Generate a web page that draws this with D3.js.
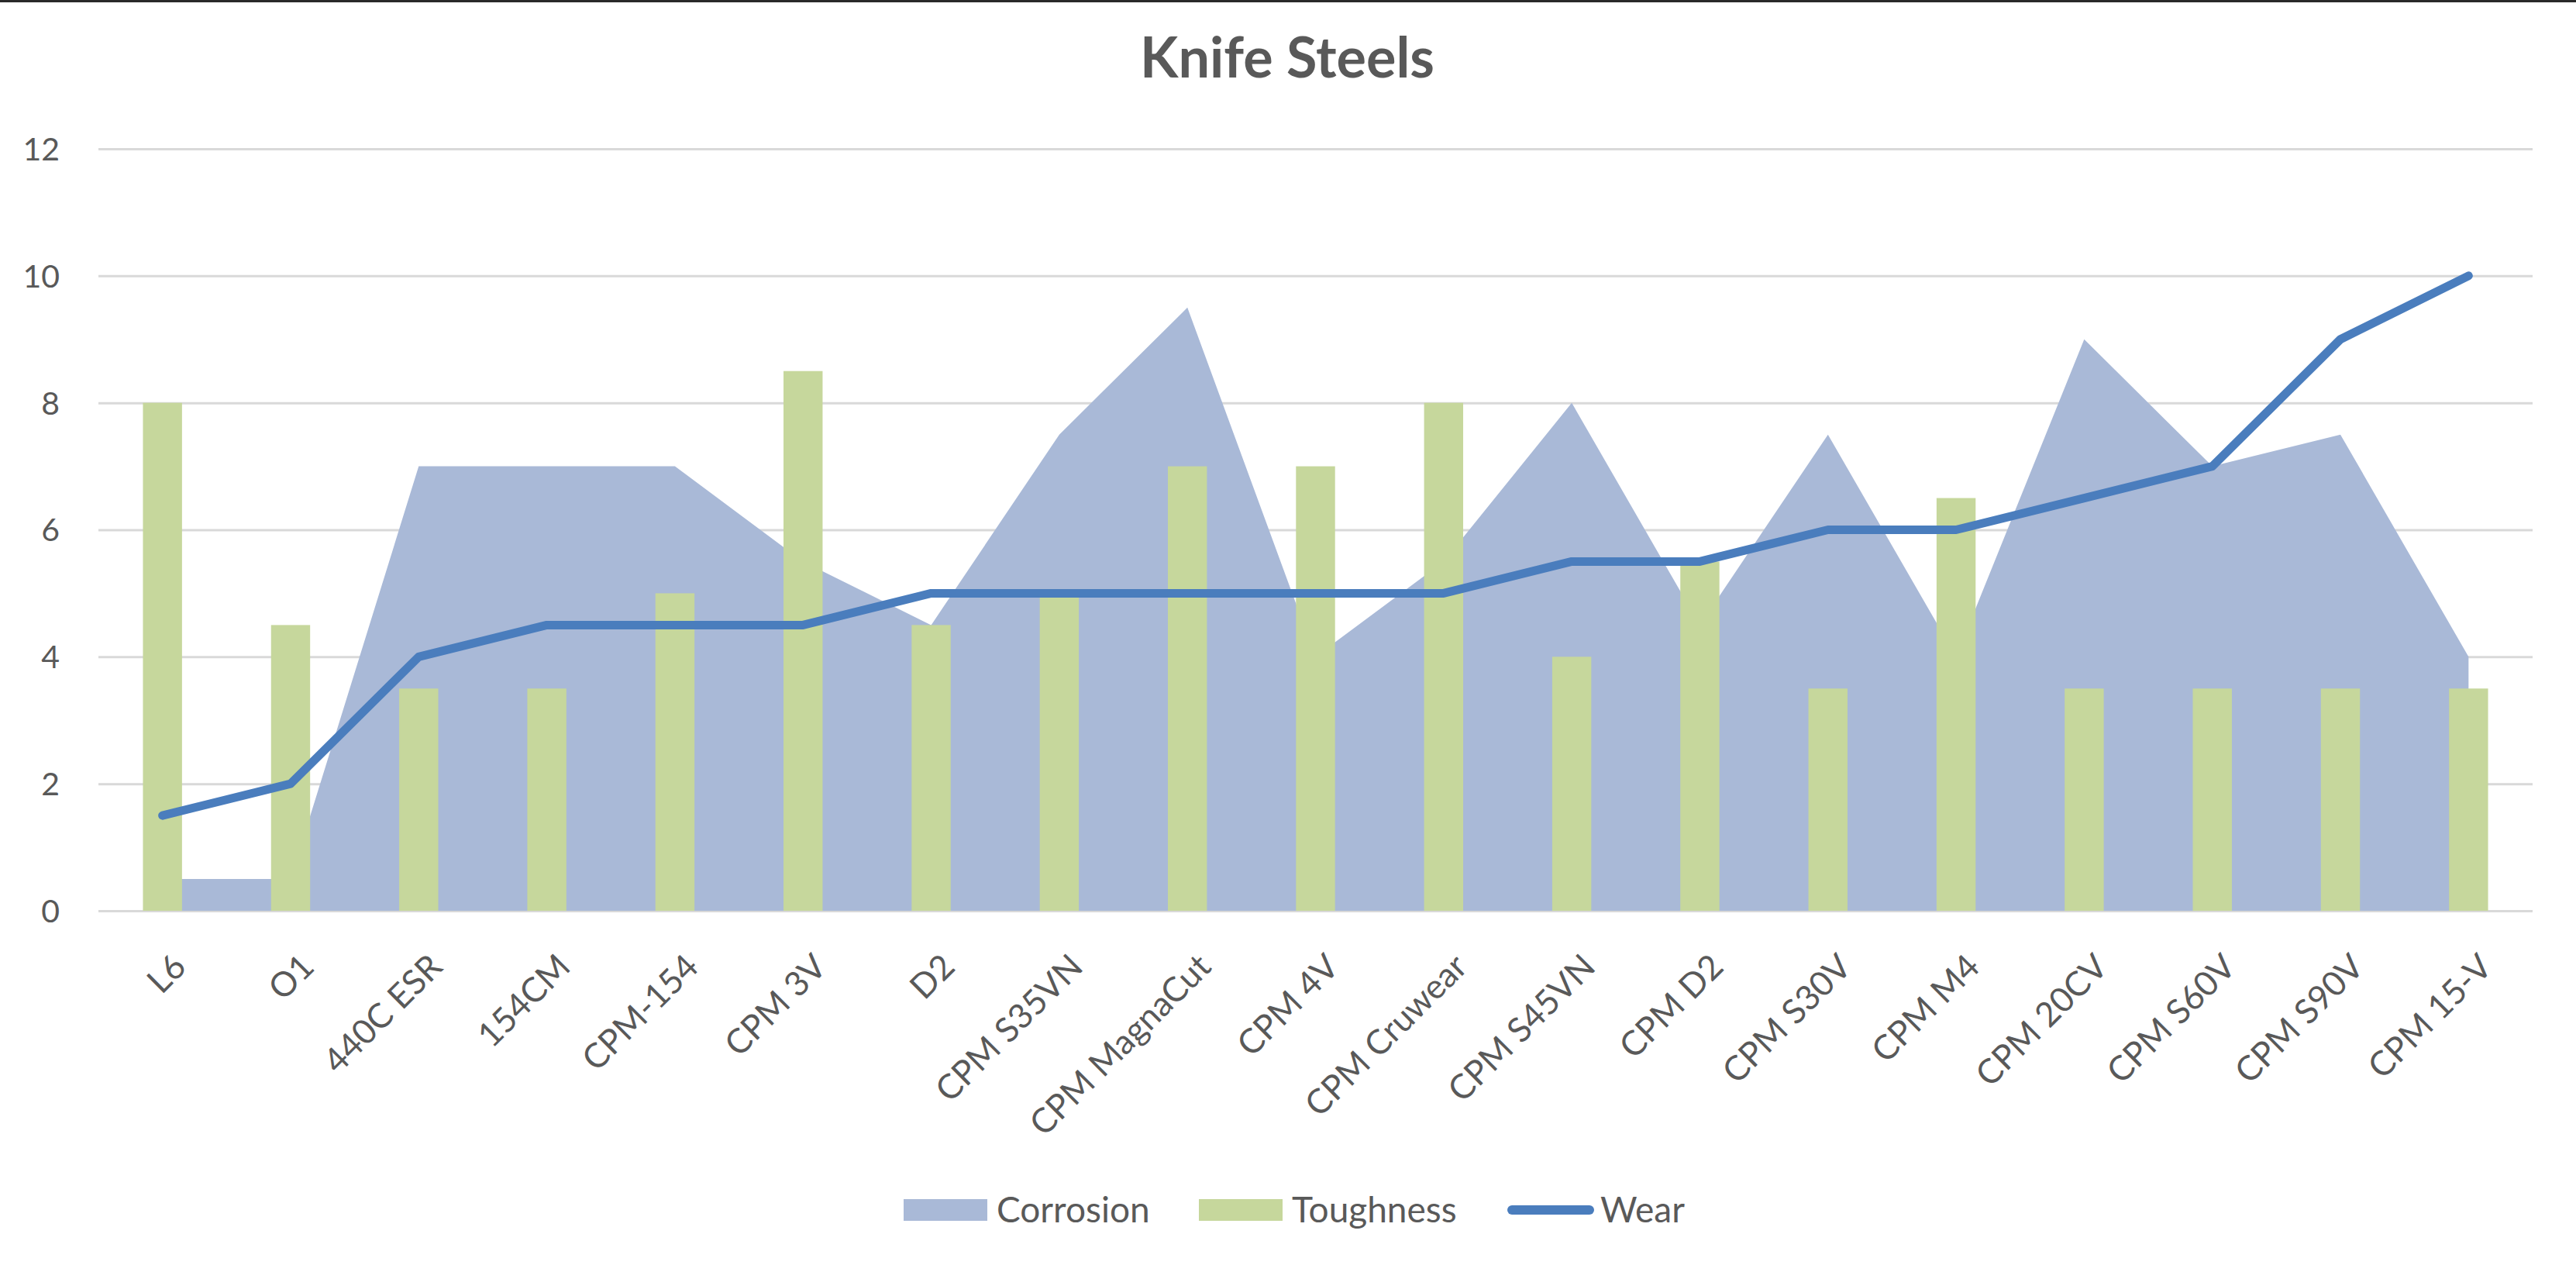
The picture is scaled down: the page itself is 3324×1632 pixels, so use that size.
<!DOCTYPE html>
<html>
<head>
<meta charset="utf-8">
<script src="https://cdn.jsdelivr.net/npm/d3@7"></script>
<style>
  body { margin: 0; background: #fff; }
  text { font-family: Lato, "Open Sans", sans-serif; fill: #595959; }
</style>
</head>
<body>
<div id="chart"></div>
<script>
// data
var steels = ["L6", "O1", "440C ESR", "154CM", "CPM-154", "CPM 3V", "D2", "CPM S35VN",
  "CPM MagnaCut", "CPM 4V", "CPM Cruwear", "CPM S45VN", "CPM D2", "CPM S30V", "CPM M4",
  "CPM 20CV", "CPM S60V", "CPM S90V", "CPM 15-V"];
var corrosion = [0.5, 0.5, 7, 7, 7, 5.5, 4.5, 7.5, 9.5, 4, 5.5, 8, 4.5, 7.5, 4, 9, 7, 7.5, 4];
var toughness = [8, 4.5, 3.5, 3.5, 5, 8.5, 4.5, 5, 7, 7, 8, 4, 5.5, 3.5, 6.5, 3.5, 3.5, 3.5, 3.5];
var wear = [1.5, 2, 4, 4.5, 4.5, 4.5, 5, 5, 5, 5, 5, 5.5, 5.5, 6, 6, 6.5, 7, 9, 10];
var yTicks = [0, 2, 4, 6, 8, 10, 12];
var seriesNames = ["Corrosion", "Toughness", "Wear"];

var W = 3324, H = 1632;
var margin = {top: 192, right: 56, bottom: 457, left: 127},
    width = W - margin.left - margin.right,
    height = H - margin.top - margin.bottom;

var colCorrosion = "#a9b9d7",
    colToughness = "#c6d79c",
    colWear = "#4a7dbd";

var svg = d3.select("#chart").append("svg")
    .attr("width", W)
    .attr("height", H);

svg.append("rect").attr("width", W).attr("height", H).attr("fill", "#fff");
// thin dark edge at top of the screenshot
svg.append("rect").attr("width", W).attr("height", 3).attr("fill", "#2a2a2a");

var g = svg.append("g")
    .attr("transform", "translate(" + margin.left + "," + margin.top + ")");

var x = d3.scaleBand().domain(steels).range([0, width]);
var y = d3.scaleLinear().domain([0, 12]).range([height, 0]);
var cx = function(d) { return x(d) + x.bandwidth() / 2; };

// gridlines + y labels
var yAxis = d3.axisLeft(y).tickValues(yTicks).tickSize(-width).tickPadding(50);
var ya = g.append("g").call(yAxis);
ya.select(".domain").remove();
ya.selectAll("line").attr("stroke", "#d9d9d9").attr("stroke-width", 3);
ya.selectAll("text")
    .style("font-size", "41px")
    .style("fill", "#595959")
    .attr("dy", "0.35em");

var rows = steels.map(function(s, i) {
  return {name: s, corrosion: corrosion[i], toughness: toughness[i], wear: wear[i]};
});

// corrosion area
var area = d3.area()
    .x(function(d) { return cx(d.name); })
    .y0(y(0))
    .y1(function(d) { return y(d.corrosion); });
g.append("path").datum(rows)
    .attr("d", area)
    .attr("fill", colCorrosion);

// toughness bars
var barW = x.bandwidth() * 0.305;
g.selectAll(".bar").data(rows).enter().append("rect")
    .attr("class", "bar")
    .attr("x", function(d) { return cx(d.name) - barW / 2; })
    .attr("width", barW)
    .attr("y", function(d) { return y(d.toughness); })
    .attr("height", function(d) { return y(0) - y(d.toughness); })
    .attr("fill", colToughness);

// wear line
var line = d3.line()
    .x(function(d) { return cx(d.name); })
    .y(function(d) { return y(d.wear); });
g.append("path").datum(rows)
    .attr("d", line)
    .attr("fill", "none")
    .attr("stroke", colWear)
    .attr("stroke-width", 11)
    .attr("stroke-linejoin", "round")
    .attr("stroke-linecap", "round");

// x labels, rotated
var xAxis = d3.axisBottom(x).tickSize(0).tickPadding(0);
var xa = g.append("g").attr("transform", "translate(0," + height + ")").call(xAxis);
xa.select(".domain").remove();
xa.selectAll("text")
    .style("font-size", "44px")
    .style("fill", "#595959")
    .style("text-anchor", "end")
    .attr("y", 0)
    .attr("dy", "0.35em")
    .attr("transform", "translate(22,64) rotate(-45)");

// title
svg.append("text")
    .attr("x", 1661)
    .attr("y", 100)
    .attr("text-anchor", "middle")
    .style("font-size", "72px")
    .style("font-weight", "bold")
    .text("Knife Steels");

// legend
var legend = svg.append("g").attr("transform", "translate(0,1561)");
var items = [
  {name: seriesNames[0], type: "area", color: colCorrosion, x: 1166},
  {name: seriesNames[1], type: "bar", color: colToughness, x: 1547},
  {name: seriesNames[2], type: "line", color: colWear, x: 1945}
];
items.forEach(function(it) {
  if (it.type === "line") {
    legend.append("line")
        .attr("x1", it.x + 6).attr("x2", it.x + 106)
        .attr("y1", 0).attr("y2", 0)
        .attr("stroke", it.color).attr("stroke-width", 12)
        .attr("stroke-linecap", "round");
  } else {
    legend.append("rect")
        .attr("x", it.x).attr("y", -14)
        .attr("width", 108).attr("height", 28)
        .attr("fill", it.color);
  }
  legend.append("text")
      .attr("x", it.x + 120)
      .attr("y", 0)
      .attr("dy", "0.35em")
      .style("font-size", "46px")
      .text(it.name);
});
</script>
</body>
</html>
